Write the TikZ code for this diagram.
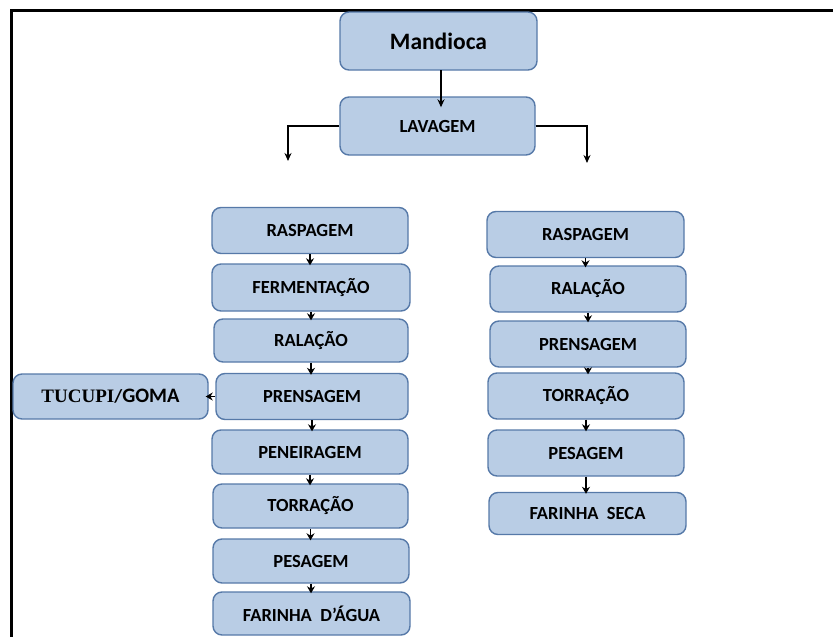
\documentclass[tikz,border=0pt]{standalone}
\usepackage{fontspec}
\setmainfont{Carlito}
\newfontfamily\serifbold{Liberation Serif}
\usepackage{tikz}
\usetikzlibrary{arrows.meta}

\definecolor{caixa}{HTML}{B9CDE5}
\definecolor{borda}{HTML}{5679A8}

\begin{document}
\begin{tikzpicture}[
  x=1pt, y=-1pt,
  etapa/.style={draw=borda, fill=caixa, line width=1.4pt, rounded corners=9pt,
    inner sep=0pt, font=\fontsize{18.5}{20}\selectfont\bfseries},
  seta/.style={-{Stealth[length=7pt, width=8pt]}, line width=1.3pt},
  ramo/.style={-{Stealth[length=8pt, width=7pt]}, line width=1.6pt}
]
  \useasboundingbox (0,0) rectangle (833,637);

  % moldura
  \draw[line width=3pt] (11.3,637) -- (11.3,10.5) -- (833,10.5);

  % topo
  \node[etapa, minimum width=197pt, minimum height=58pt,
    font=\fontsize{23.5}{26}\selectfont\bfseries] (mand) at (438.5, 41) {Mandioca};
  \node[etapa, minimum width=195pt, minimum height=58pt] (lav) at (437.5, 126) {LAVAGEM};

  \coordinate (desce) at (441, 70);
  \draw[ramo, shorten >=-11pt] (desce) -- (desce |- lav.north);

  \coordinate (ramoE) at (288, 161);
  \coordinate (ramoD) at (587, 163);
  \draw[ramo] (lav.west) -| (ramoE);
  \draw[ramo] (lav.east) -| (ramoD);

  % farinha d'agua
  \node[etapa, minimum width=196pt, minimum height=46pt] (e1) at (310, 230.5) {RASPAGEM};
  \node[etapa, minimum width=198pt, minimum height=47pt] (e2) at (311, 287.5) {FERMENTAÇÃO};
  \node[etapa, minimum width=194pt, minimum height=43pt] (e3) at (311, 340.5) {RALAÇÃO};
  \node[etapa, minimum width=192pt, minimum height=46pt] (e4) at (312, 396.5) {PRENSAGEM};
  \node[etapa, minimum width=196pt, minimum height=44pt] (e5) at (310, 452) {PENEIRAGEM};
  \node[etapa, minimum width=195pt, minimum height=44pt] (e6) at (310.5, 506) {TORRAÇÃO};
  \node[etapa, minimum width=196pt, minimum height=44pt] (e7) at (311, 561) {PESAGEM};
  \node[etapa, minimum width=197pt, minimum height=43pt] (e8) at (311.5, 613.5) {FARINHA\ \ D'ÁGUA};

  \node[etapa, minimum width=195pt, minimum height=45pt] (tuc) at (110.5, 396.5)
    {{\serifbold\fontsize{19}{21}\selectfont TUCUPI}/{\fontsize{20.5}{22}\selectfont GOMA}};

  \foreach \a/\b in {e1/e2, e2/e3, e3/e4, e4/e5, e5/e6, e6/e7, e7/e8}
    \draw[seta, shorten >=-2pt] (\a.south) -- (\a.south |- \b.north);
  \draw[seta, shorten >=-3pt] (e4.west) -- (tuc.east);

  % farinha seca
  \node[etapa, minimum width=197pt, minimum height=46pt] (s1) at (585.5, 234.5) {RASPAGEM};
  \node[etapa, minimum width=196pt, minimum height=46pt] (s2) at (588, 289) {RALAÇÃO};
  \node[etapa, minimum width=196pt, minimum height=46pt] (s3) at (588, 344) {PRENSAGEM};
  \node[etapa, minimum width=196pt, minimum height=46pt] (s4) at (586, 396) {TORRAÇÃO};
  \node[etapa, minimum width=196pt, minimum height=46pt] (s5) at (586, 453) {PESAGEM};
  \node[etapa, minimum width=197pt, minimum height=42pt] (s6) at (587.5, 513.5) {FARINHA\ \ SECA};

  \foreach \a/\b in {s1/s2, s2/s3, s3/s4, s4/s5, s5/s6}
    \draw[seta, shorten >=-2pt] (\a.south) -- (\a.south |- \b.north);
\end{tikzpicture}
\end{document}
